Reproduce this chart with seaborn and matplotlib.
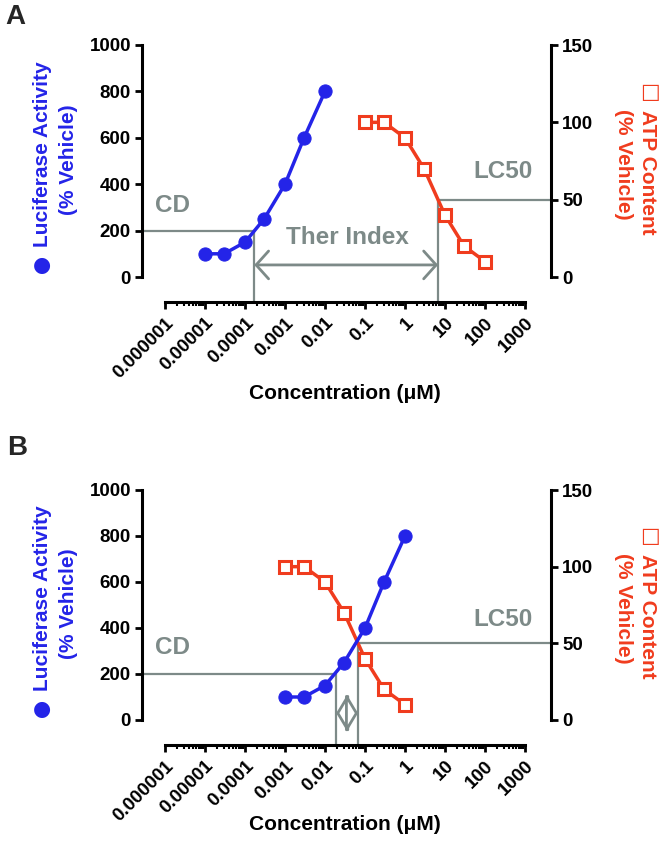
import numpy as np
import matplotlib
matplotlib.use("Agg")
import matplotlib.pyplot as plt
import seaborn as sns
from matplotlib.patches import FancyArrowPatch
from matplotlib.ticker import NullFormatter

sns.set_style("ticks")
plt.rcParams["font.family"] = ["Liberation Sans", "DejaVu Sans"]
plt.rcParams["font.weight"] = "bold"
plt.rcParams["axes.labelweight"] = "bold"

# ---------------- data ----------------
conc_luc_A = [1e-5, 3e-5, 1e-4, 3e-4, 1e-3, 3e-3, 1e-2]
conc_atp_A = [0.1, 0.3, 1, 3, 10, 30, 100]
conc_luc_B = [1e-3, 3e-3, 1e-2, 3e-2, 0.1, 0.3, 1]
conc_atp_B = [1e-3, 3e-3, 1e-2, 3e-2, 0.1, 0.3, 1]
luciferase = [100, 100, 150, 250, 400, 600, 800]
atp = [100, 100, 90, 70, 40, 20, 10]

xtick_vals = [1e-6, 1e-5, 1e-4, 1e-3, 1e-2, 1e-1, 1, 10, 100, 1000]
xtick_labels = ["0.000001", "0.00001", "0.0001", "0.001", "0.01", "0.1",
                "1", "10", "100", "1000"]
left_ticks = [0, 200, 400, 600, 800, 1000]
right_ticks = [0, 50, 100, 150]

cd_A, lc50_A = 1.7e-4, 6.7
cd_B, lc50_B = 0.019, 0.067
cd_level = 200      # left axis
lc50_level = 50     # right axis

BLUE = "#2424E8"
RED = "#F03C1E"
GRAY = "#7D8A88"

W, H = 661, 850
fig = plt.figure(figsize=(W / 100, H / 100), dpi=100)
fig.patch.set_facecolor("white")


def rect(l, t, r, b):
    return [l / W, 1 - b / H, (r - l) / W, (b - t) / H]


def ftext(x, y, s, **kw):
    fig.text(x / W, 1 - y / H, s, **kw)


XLIM = (10 ** -6.575, 10 ** 3.65)
minor = [m * 10.0 ** e for e in range(-6, 3) for m in range(2, 10)]


def panel(top, bottom, conc_luc, conc_atp, cd, lc50, arrow_y, hollow):
    ax = fig.add_axes(rect(142, top, 551, bottom))
    ax.set_xscale("log")
    ax2 = ax.twinx()
    ax.set_zorder(ax2.get_zorder() + 1)
    ax.patch.set_visible(False)

    span = bottom - 25 - top
    ybot = -25 / span * 1000
    ax.set_ylim(ybot, 1000)
    ax2.set_ylim(ybot * 0.15, 150)
    ax.set_xlim(*XLIM)

    sns.lineplot(x=conc_luc, y=luciferase, ax=ax, color=BLUE, marker="o",
                 markersize=9.5, markeredgecolor=BLUE, linewidth=2.5,
                 errorbar=None, zorder=5)
    sns.lineplot(x=conc_atp, y=atp, ax=ax2, color=RED, marker="s",
                 markersize=8.5, markerfacecolor="white", markeredgecolor=RED,
                 markeredgewidth=2.2, linewidth=2.5, errorbar=None, zorder=5)
    ax2.set_xscale("log")
    ax.set_xlim(*XLIM)

    # annotation lines
    glw = 1.6
    ax.plot([XLIM[0], cd], [cd_level, cd_level], color=GRAY, lw=glw, zorder=1,
            clip_on=False)
    ax.plot([cd, cd], [ybot, cd_level], color=GRAY, lw=glw, zorder=1,
            clip_on=False)
    ax2.plot([lc50, XLIM[1]], [lc50_level, lc50_level], color=GRAY, lw=glw,
             zorder=1, clip_on=False)
    ax2.plot([lc50, lc50], [ybot * 0.15, lc50_level], color=GRAY, lw=glw,
             zorder=1, clip_on=False)
    if hollow:
        style = "<|-|>,head_length=0.36,head_width=0.6"
        arr = FancyArrowPatch((cd, arrow_y), (lc50, arrow_y), arrowstyle=style,
                              mutation_scale=20, lw=2,
                              facecolor="white", edgecolor=GRAY,
                              shrinkA=0, shrinkB=0, zorder=2)
    else:
        style = "<->,head_length=0.45,head_width=0.5"
        arr = FancyArrowPatch((cd, arrow_y), (lc50, arrow_y), arrowstyle=style,
                              mutation_scale=20, color=GRAY, lw=2,
                              shrinkA=0, shrinkB=0, zorder=2)
    ax.add_patch(arr)

    # spines
    for a in (ax, ax2):
        a.spines["top"].set_visible(False)
    ax.spines["right"].set_visible(False)
    ax2.spines["left"].set_visible(False)
    ax2.spines["bottom"].set_visible(False)
    for sp in ("left", "bottom"):
        ax.spines[sp].set_linewidth(2.2)
        ax.spines[sp].set_color("black")
    ax2.spines["right"].set_linewidth(2.2)
    ax2.spines["right"].set_color("black")
    ax.spines["left"].set_bounds(0, 1000)
    ax.spines["bottom"].set_bounds(1e-6, 1e3)
    ax2.spines["right"].set_bounds(0, 150)

    ax.set_yticks(left_ticks)
    ax.set_yticklabels([str(v) for v in left_ticks])
    ax2.set_yticks(right_ticks)
    ax2.set_yticklabels([str(v) for v in right_ticks])
    ax.set_xticks(xtick_vals)
    ax.set_xticklabels(xtick_labels, rotation=45, ha="right",
                       rotation_mode="anchor")
    ax.set_xticks(minor, minor=True)
    ax.xaxis.set_minor_formatter(NullFormatter())
    ax.tick_params(axis="both", which="major", length=5, width=2,
                   labelsize=13.5, color="black", labelcolor="black",
                   direction="out")
    ax.tick_params(axis="x", which="major", pad=4)
    ax.tick_params(axis="y", which="major", pad=3)
    ax.tick_params(axis="x", which="minor", length=3, width=1.5,
                   color="black")
    ax.tick_params(axis="y", which="minor", left=False)
    ax2.tick_params(axis="y", which="major", length=5, width=2,
                    labelsize=13.5, color="black", labelcolor="black",
                    direction="out", pad=3)
    ax2.tick_params(axis="y", which="minor", right=False)
    ax.set_xlabel("")
    ax.set_ylabel("")
    ax2.set_ylabel("")
    for lab in ax.get_xticklabels() + ax.get_yticklabels() + ax2.get_yticklabels():
        lab.set_fontweight("bold")
    return ax, ax2


# Panel A
panel(45, 302, conc_luc_A, conc_atp_A, cd_A, lc50_A, 52, hollow=False)
# Panel B
panel(490, 745, conc_luc_B, conc_atp_B, cd_B, lc50_B, 30, hollow=True)

lab_kw = dict(fontsize=15, fontweight="bold", ha="center", va="center")
sym_kw = dict(fontsize=15, ha="center", va="center", family=["DejaVu Sans"])
for dy, yx in ((0, 393), (444, 825)):
    ftext(43, 154 + dy, "Luciferase Activity", rotation=90, color=BLUE, **lab_kw)
    ftext(68, 160 + dy, "(% Vehicle)", rotation=90, color=BLUE, **lab_kw)
    ftext(42, 265 + dy, "\u25cf", color=BLUE, **sym_kw)
    ftext(648, 172 + dy, "ATP Content", rotation=270, color=RED, **lab_kw)
    ftext(623, 164 + dy, "(% Vehicle)", rotation=270, color=RED, **lab_kw)
    ftext(650, 92 + dy, "\u25a1", color=RED, **sym_kw)
    ftext(345, yx, "Concentration (\u03bcM)", color="black", **lab_kw)

ann_kw = dict(fontsize=17.5, fontweight="bold", color=GRAY, ha="center",
              va="center")
ftext(173, 205, "CD", **ann_kw)
ftext(347, 237, "Ther Index", **ann_kw)
ftext(503, 172, "LC50", **ann_kw)
ftext(173, 648, "CD", **ann_kw)
ftext(503, 619, "LC50", **ann_kw)

ftext(15, 17, "A", fontsize=20, fontweight="bold", ha="center", va="center")
ftext(17, 448, "B", fontsize=20, fontweight="bold", ha="center", va="center")

fig.savefig("out.png", dpi=100, facecolor="white")
